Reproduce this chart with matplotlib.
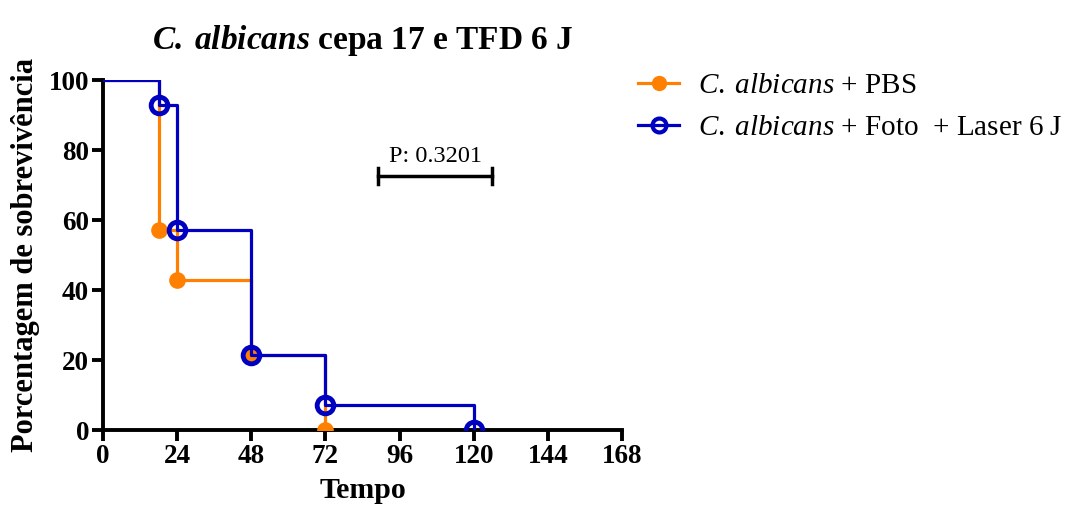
import matplotlib.pyplot as plt

plt.rcParams['font.family'] = ['Liberation Serif', 'DejaVu Serif']
plt.rcParams['mathtext.fontset'] = 'custom'
plt.rcParams['mathtext.rm'] = 'Liberation Serif'
plt.rcParams['mathtext.it'] = 'Liberation Serif:italic'
plt.rcParams['mathtext.bf'] = 'Liberation Serif:bold'
plt.rcParams['mathtext.bfit'] = 'Liberation Serif:italic:bold'

# survival curves (time in hours, % survival)
pbs_t = [0, 18, 24, 48, 72]
pbs_s = [100, 57.14, 42.86, 21.43, 0]
foto_t = [0, 18, 24, 48, 72, 120]
foto_s = [100, 92.86, 57.14, 21.43, 7.14, 0]

xticks = [0, 24, 48, 72, 96, 120, 144, 168]
yticks = [0, 20, 40, 60, 80, 100]
p_text = 'P: 0.3201'
p_span = [89, 126]
p_y = 72.6

orange = '#FF8000'
blue = '#0000C0'

fig = plt.figure(figsize=(10.66, 5.11), dpi=100)
ax = fig.add_axes([0.0966, 0.1585, 0.4869, 0.6849])

ax.step(pbs_t, pbs_s, where='post', color=orange, lw=2.3, zorder=2)
ax.plot(pbs_t[1:], pbs_s[1:], 'o', color=orange, ms=11, zorder=3)
ax.step(foto_t, foto_s, where='post', color=blue, lw=2.3, zorder=4)
ax.plot(foto_t[1:], foto_s[1:], 'o', mfc='none', mec=blue, mew=3.5, ms=12, zorder=5)

# legend handles
ax.plot([], [], '-o', color=orange, lw=2.3, ms=10,
        label=r'$\mathit{C.\;albicans}$ + PBS')
ax.plot([], [], '-o', color=blue, lw=2.3, mfc='none', mew=3, ms=10,
        label=r'$\mathit{C.\;albicans}$ + Foto  + Laser 6 J')
ax.legend(loc='upper left', bbox_to_anchor=(1.031, 1.022), frameon=False,
          fontsize=21, handlelength=1.4, handletextpad=0.65, labelspacing=0.55,
          borderpad=0, borderaxespad=0)

# p value bracket
ax.plot(p_span, [p_y, p_y], color='black', lw=2.5, clip_on=False)
for xx in p_span:
    ax.plot([xx, xx], [p_y - 2.2, p_y + 2.2], color='black', lw=2.5, clip_on=False)
ax.text(sum(p_span) / 2, p_y + 2.5, p_text, ha='center', va='bottom', fontsize=17.5)

ax.set_xlim(0, 168)
ax.set_ylim(0, 100)
ax.set_xticks(xticks)
ax.set_yticks(yticks)
for s in ['top', 'right']:
    ax.spines[s].set_visible(False)
for s in ['left', 'bottom']:
    ax.spines[s].set_linewidth(2.8)
ax.tick_params(width=2.8, length=8, labelsize=19.5, pad=2)
for lab in ax.get_xticklabels() + ax.get_yticklabels():
    lab.set_fontweight('bold')

ax.set_xlabel('Tempo', fontsize=21.5, fontweight='bold', labelpad=6)
ax.set_ylabel('Porcentagem de sobrevivência', fontsize=22, fontweight='bold', labelpad=6)
ax.set_title(r'$\mathbfit{C.\;albicans}$ cepa 17 e TFD 6 J', fontsize=24,
             fontweight='bold', pad=22)

fig.savefig('out.png', dpi=100)
